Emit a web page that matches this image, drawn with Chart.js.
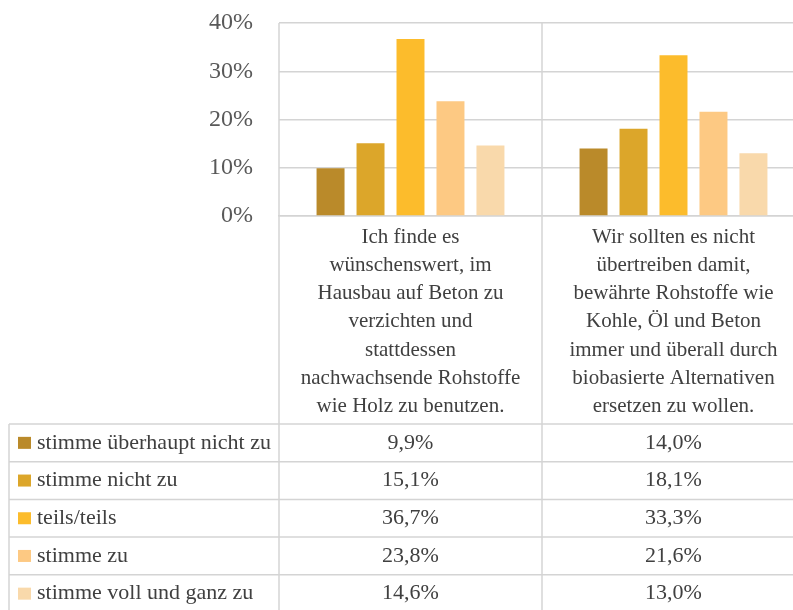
<!DOCTYPE html>
<html>
<head>
<meta charset="utf-8">
<script src="https://cdn.jsdelivr.net/npm/chart.js@4/dist/chart.umd.min.js"></script>
<style>
html,body{margin:0;padding:0;background:#fff;overflow:hidden;width:793px;height:610px;}
#wrap{position:absolute;left:0;top:0;width:820px;height:610px;}
</style>
</head>
<body>
<div id="wrap"><canvas id="c" width="820" height="610"></canvas></div>
<script>
const categories = [
  ["Ich finde es", "wünschenswert, im", "Hausbau auf Beton zu", "verzichten und", "stattdessen", "nachwachsende Rohstoffe", "wie Holz zu benutzen."],
  ["Wir sollten es nicht", "übertreiben damit,", "bewährte Rohstoffe wie", "Kohle, Öl und Beton", "immer und überall durch", "biobasierte Alternativen", "ersetzen zu wollen."]
];
const seriesNames = ["stimme überhaupt nicht zu", "stimme nicht zu", "teils/teils", "stimme zu", "stimme voll und ganz zu"];
const stimmeUeberhauptNichtZu = [9.9, 14.0];
const stimmeNichtZu = [15.1, 18.1];
const teilsTeils = [36.7, 33.3];
const stimmeZu = [23.8, 21.6];
const stimmeVollUndGanzZu = [14.6, 13.0];
const yTickValues = [0, 10, 20, 30, 40];
const seriesColors = ["#BA8A2A", "#DCA62A", "#FCBC2C", "#FDC983", "#F9D9AB"];

const seriesValues = [stimmeUeberhauptNichtZu, stimmeNichtZu, teilsTeils, stimmeZu, stimmeVollUndGanzZu];
const FONT = "'Liberation Serif', 'DejaVu Serif', serif";
const TEXT = "#404040";
const GRID = "#D4D4D4";

const fmt = v => v.toFixed(1).replace('.', ',') + '%';

const tablePlugin = {
  id: 'tablePlugin',
  afterDraw(chart) {
    const ctx = chart.ctx;
    const xs = chart.scales.x;
    const ca = chart.chartArea;
    const left = ca.left, right = ca.right;
    const mid = (xs.getPixelForValue(0) + xs.getPixelForValue(1)) / 2;
    const tableTop = 424, rowH = 37.7, tableLeft = 9;
    const bottom = chart.height;
    ctx.save();
    ctx.strokeStyle = GRID;
    ctx.lineWidth = 1.5;
    [left, mid, right].forEach(x => {
      ctx.beginPath(); ctx.moveTo(x, ca.top); ctx.lineTo(x, bottom); ctx.stroke();
    });
    ctx.beginPath(); ctx.moveTo(tableLeft, tableTop); ctx.lineTo(tableLeft, bottom); ctx.stroke();
    for (let i = 0; i <= seriesNames.length; i++) {
      const y = tableTop + i * rowH;
      ctx.beginPath(); ctx.moveTo(tableLeft, y); ctx.lineTo(right, y); ctx.stroke();
    }
    ctx.font = "22px " + FONT;
    ctx.textBaseline = 'middle';
    seriesNames.forEach((name, i) => {
      const cy = tableTop + i * rowH + rowH / 2;
      ctx.fillStyle = seriesColors[i];
      ctx.fillRect(18, cy - 6, 13, 12);
      ctx.fillStyle = TEXT;
      ctx.textAlign = 'left';
      ctx.fillText(name, 37, cy);
      ctx.textAlign = 'center';
      seriesValues[i].forEach((v, j) => {
        ctx.fillText(fmt(v), xs.getPixelForValue(j), cy);
      });
    });
    ctx.restore();
  }
};

new Chart(document.getElementById('c'), {
  type: 'bar',
  data: {
    labels: categories,
    datasets: seriesNames.map((n, i) => ({
      label: n,
      data: seriesValues[i],
      backgroundColor: seriesColors[i],
      borderWidth: 0,
      categoryPercentage: 0.76,
      barPercentage: 0.7
    }))
  },
  options: {
    responsive: false,
    animation: false,
    layout: { padding: { top: 23, right: 15, left: 0, bottom: 0 } },
    plugins: { legend: { display: false }, tooltip: { enabled: false } },
    scales: {
      x: {
        grid: { display: false, drawTicks: false },
        border: { color: GRID, width: 1.5 },
        ticks: {
          autoSkip: false, maxRotation: 0, minRotation: 0,
          color: TEXT, padding: 7,
          font: { family: FONT, size: 21, lineHeight: 1.345 }
        },
        afterFit(s) { s.height = 394; }
      },
      y: {
        min: 0, max: 40,
        afterBuildTicks(s) { s.ticks = yTickValues.map(v => ({ value: v })); },
        grid: { color: GRID, lineWidth: 1.5, drawTicks: true, tickLength: 26, tickColor: 'rgba(0,0,0,0)' },
        border: { display: false },
        ticks: {
          color: "#595959", padding: 0,
          font: { family: FONT, size: 24 },
          callback: v => v + '%'
        },
        afterFit(s) { s.width = 279; }
      }
    }
  },
  plugins: [tablePlugin]
});
</script>
</body>
</html>
